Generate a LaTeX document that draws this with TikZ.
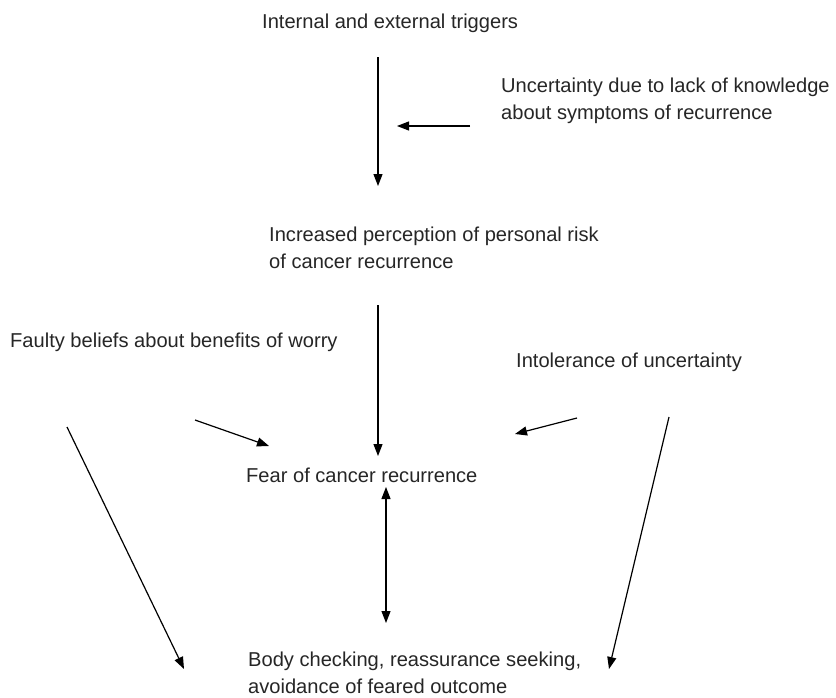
\documentclass[tikz,border=0pt]{standalone}
\usepackage{fontspec}
\setmainfont{Liberation Sans}
\usetikzlibrary{arrows.meta}
\begin{document}
\begin{tikzpicture}[x=1pt,y=-1pt,
  lbl/.style={anchor=base west,inner sep=0pt,align=left,text=black!85,
    font=\fontsize{20.1}{27}\selectfont},
  arr/.style={line width=1.2pt,-{Triangle[length=12pt,width=9pt]}},
  darr/.style={line width=1.2pt,{Triangle[length=12pt,width=9pt]}-{Triangle[length=12pt,width=9pt]}}]
\useasboundingbox[fill=white] (0,0) rectangle (836,697);
\node[lbl] (trig) at (262,28) {Internal and external triggers};
\node[lbl] (unc) at (501,119) {Uncertainty due to lack of knowledge\\about symptoms of recurrence};
\node[lbl] (risk) at (269,268) {Increased perception of personal risk\\of cancer recurrence};
\node[lbl] (faulty) at (10,347) {Faulty beliefs about benefits of worry};
\node[lbl] (intol) at (516,367) {Intolerance of uncertainty};
\node[lbl] (fear) at (246,482) {Fear of cancer recurrence};
\node[lbl] (body) at (248,693) {Body checking, reassurance seeking,\\avoidance of feared outcome};
\coordinate (a1s) at (378,57);  \coordinate (a1e) at (378,186);
\coordinate (a2s) at (470,126); \coordinate (a2e) at (397,126);
\coordinate (a3s) at (378,305); \coordinate (a3e) at (378,456);
\coordinate (a4s) at (195,420); \coordinate (a4e) at (269,446);
\coordinate (a5s) at (577,418); \coordinate (a5e) at (515,434);
\coordinate (a6s) at (386,487); \coordinate (a6e) at (386,623);
\coordinate (a7s) at (67,427);  \coordinate (a7e) at (184,669);
\coordinate (a8s) at (669,417); \coordinate (a8e) at (609,669);
\draw[arr] (a1s) -- (a1e);
\draw[arr] (a2s) -- (a2e);
\draw[arr] (a3s) -- (a3e);
\draw[arr] (a4s) -- (a4e);
\draw[arr] (a5s) -- (a5e);
\draw[darr] (a6s) -- (a6e);
\draw[arr] (a7s) -- (a7e);
\draw[arr] (a8s) -- (a8e);
\end{tikzpicture}
\end{document}
